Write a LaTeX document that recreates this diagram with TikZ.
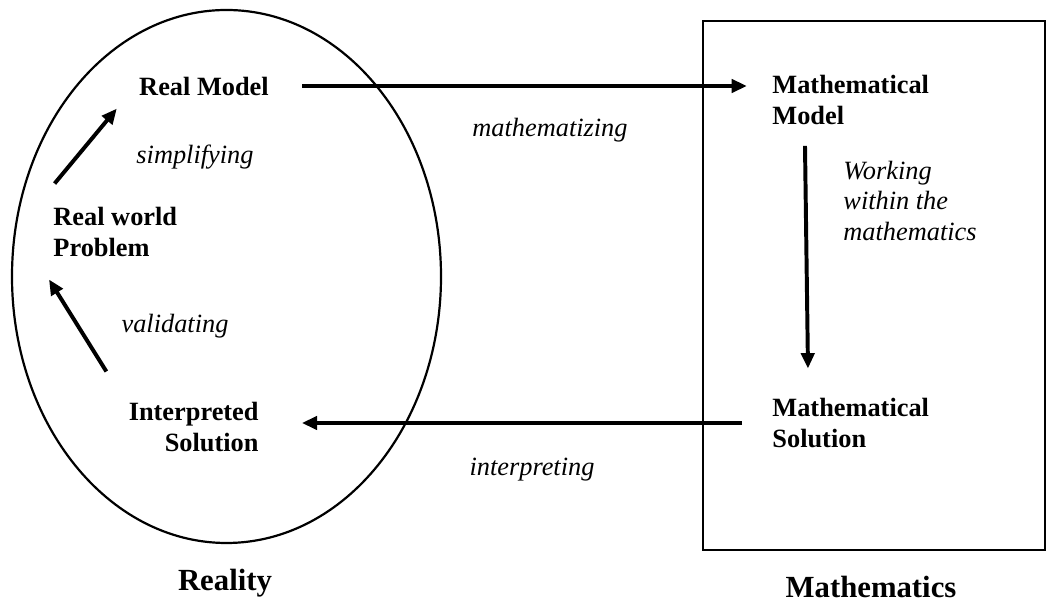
\documentclass[tikz,border=0pt]{standalone}
\usepackage{fontspec}
\setmainfont{Liberation Serif}
\usepackage{tikz}
\usetikzlibrary{arrows.meta}
\tikzset{
  stage/.style={font=\fontsize{12}{14}\selectfont\bfseries,inner sep=2pt},
  verb/.style={font=\fontsize{12}{14}\selectfont\itshape,inner sep=2pt},
  world/.style={font=\fontsize{14}{16}\selectfont\bfseries,inner sep=2pt},
  flow/.style={-{Triangle[length=7pt,width=6pt]},line width=1.8pt,draw=black}
}
\begin{document}
\begin{tikzpicture}[x=0.016cm,y=-0.016cm]
\useasboundingbox (0,0) rectangle (1047,602);
% the two worlds
\draw[line width=1pt] (226.5,276.5) ellipse [x radius=214.5,y radius=266.5];
\draw[line width=1.2pt] (703,21) rectangle (1045,550);
\node[world] (reality) at (225,583) {Reality};
\node[world] (maths) at (871,587) {Mathematics};
% stages
\node[stage] (realmodel) at (204,86) {Real Model};
\node[stage,anchor=west,align=left] (problem) at (48.6,232) {Real world\\Problem};
\node[stage,anchor=east,align=right] (interp) at (263.4,427) {Interpreted\\Solution};
\node[stage,anchor=west,align=left] (mathmodel) at (767.6,100) {Mathematical\\Model};
\node[stage,anchor=west,align=left] (mathsol) at (767.6,423) {Mathematical\\Solution};
% verbs
\node[verb] (simplify) at (195,157) {simplifying};
\node[verb] (validate) at (175,326) {validating};
\node[verb] (mathize) at (550,130) {mathematizing};
\node[verb] (interpret) at (532,470) {interpreting};
\node[verb,anchor=west,align=left] (work) at (838.6,201) {Working\\within the\\mathematics};
% cycle
\draw[flow,shorten <=13pt,shorten >=9.4pt] (realmodel.east) -- (realmodel.east -| mathmodel.west);
\draw[flow] ([shift={(37.4,16.5)}]mathmodel.south west) -- ([shift={(40.4,-25)}]mathsol.north west);
\draw[flow,shorten <=11.6pt,shorten >=17.5pt] (mathsol.west) -- (mathsol.west -| interp.east);
\draw[flow] ([shift={(-17.6,-26)}]interp.north west) -- ([shift={(0.4,18)}]problem.south west);
\draw[flow] ([shift={(6,-19)}]problem.north west) -- ([shift={(-17.6,8.5)}]realmodel.south west);
\end{tikzpicture}
\end{document}
